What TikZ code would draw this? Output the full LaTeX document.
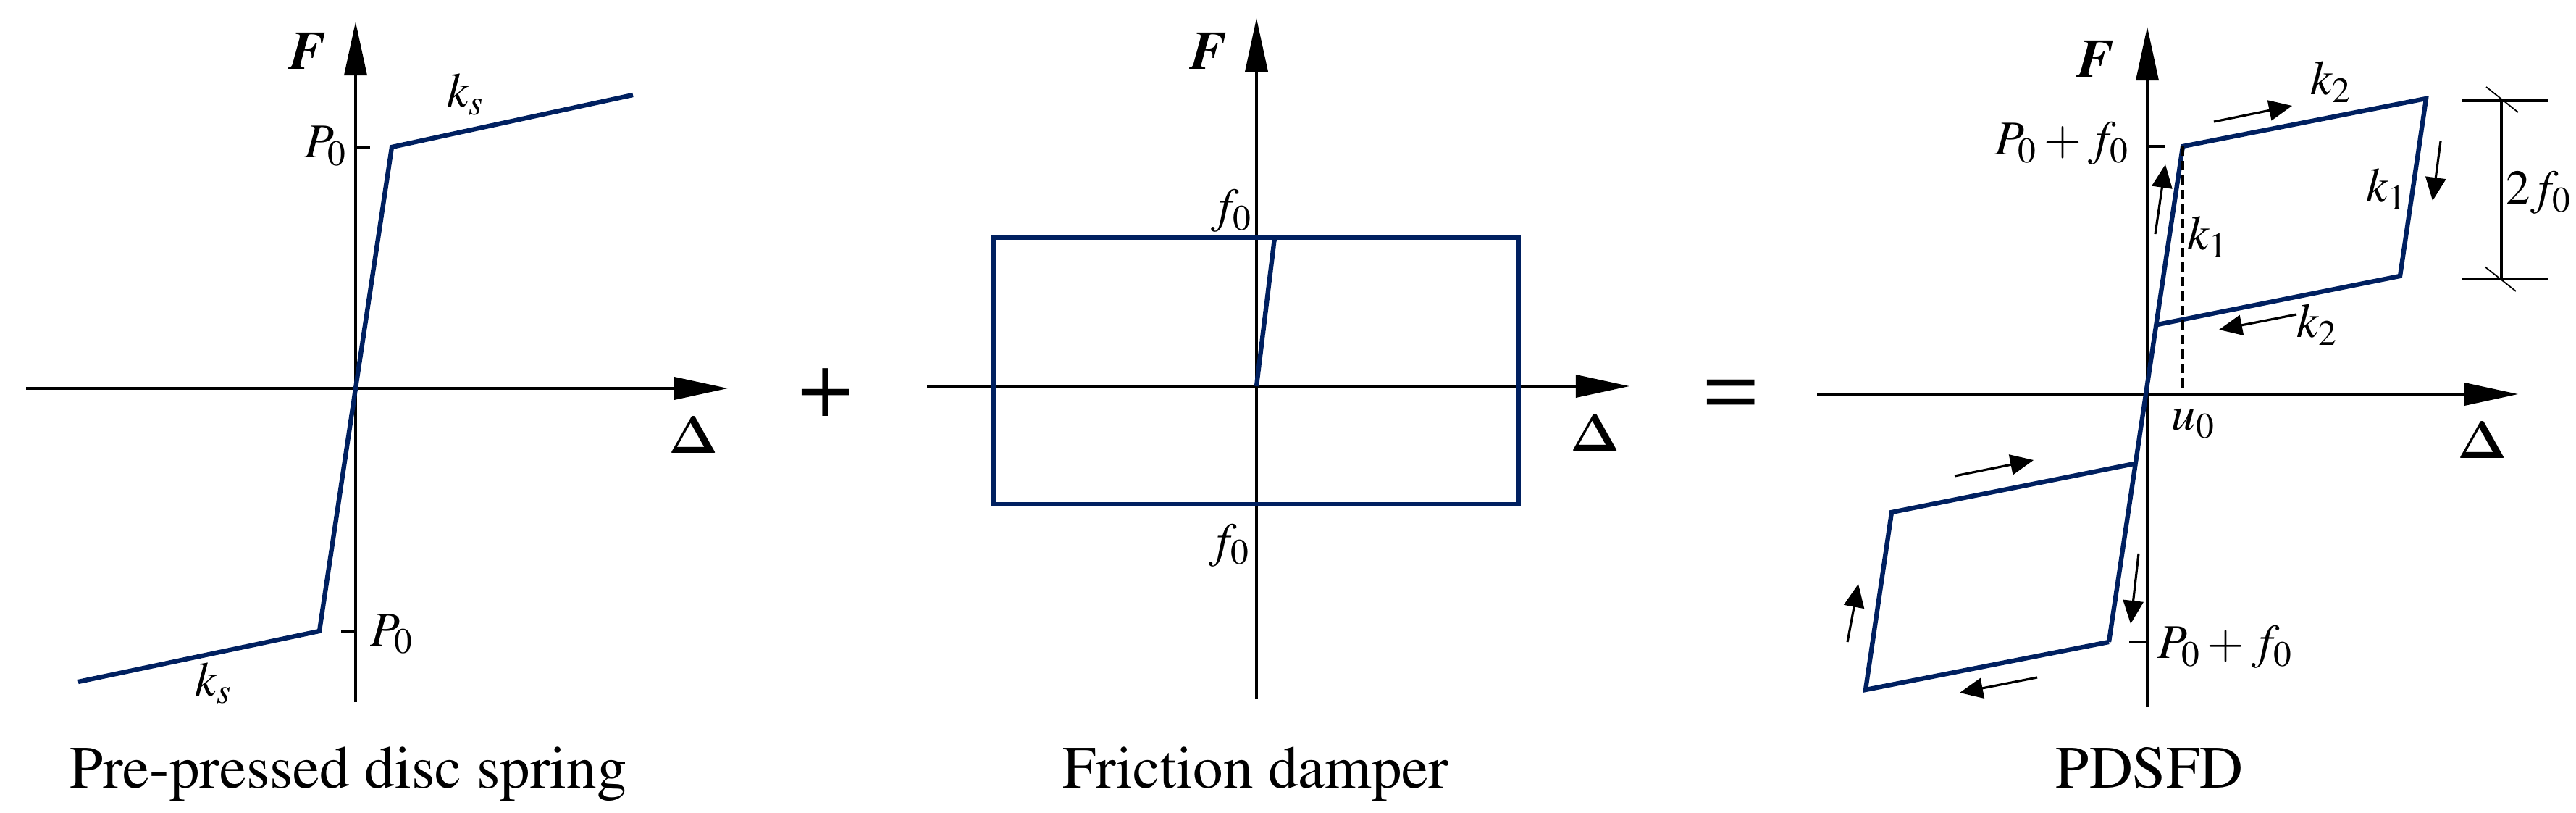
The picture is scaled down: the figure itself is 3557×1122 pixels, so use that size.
\documentclass[tikz,border=0pt]{standalone}
\usepackage[T1]{fontenc}
\usepackage{mathptmx}
\usetikzlibrary{arrows.meta}
\definecolor{navy}{RGB}{0,32,96}
\newcommand{\bDelta}{{\usefont{OT1}{cmr}{bx}{n}\char1}}
\begin{document}
\begin{tikzpicture}[x=0.01cm,y=-0.01cm,
  axis/.style={line width=1pt,-{Triangle[length=0.74cm,width=0.31cm]}},
  curve/.style={navy,line width=1.8pt,line join=miter},
  tickline/.style={line width=1pt},
  lab/.style={font=\fontsize{19}{19}\selectfont,inner sep=0pt},
  bigF/.style={font=\fontsize{21.3}{22}\selectfont\bfseries\itshape,inner sep=0pt},
  delta/.style={font=\fontsize{21}{22}\selectfont,inner sep=0pt},
  title/.style={font=\fontsize{23.6}{25}\selectfont,inner sep=0pt},
  op/.style={font=\fontsize{37}{37}\selectfont,inner sep=0pt},
  dirarrow/.style={line width=0.9pt,-{Triangle[length=0.32cm,width=0.28cm]}},
  dimline/.style={line width=1pt},
  slash/.style={line width=0.5pt}]
\useasboundingbox (0,0) rectangle (3557,1122);

% ---------------- Panel 1 ----------------
\coordinate (p1vb) at (491,969);
\coordinate (p1vt) at (491,30);
\coordinate (p1hl) at (36,536);
\coordinate (p1hr) at (1005,536);
\draw[axis] (p1vb) -- (p1vt);
\draw[axis] (p1hl) -- (p1hr);
\coordinate (s1) at (108,941);
\coordinate (s2) at (441,871);
\coordinate (s0) at (491,536);
\coordinate (s3) at (541,203);
\coordinate (s4) at (874,131);
\draw[curve] (s1) -- (s2) -- (s0) -- (s3) -- (s4);
\coordinate (t1a) at (491,203); \coordinate (t1b) at (511,203);
\coordinate (t2a) at (471,871); \coordinate (t2b) at (491,871);
\draw[tickline] (t1a) -- (t1b);
\draw[tickline] (t2a) -- (t2b);
\node[bigF,anchor=base] (F1) at (424,96) {F};
\node[lab,anchor=base east] (P1u) at (480,218) {$P_0$};
\node[lab,anchor=base west] (ks1) at (617,148) {$k_s$};
\node[lab,anchor=base west] (P1l) at (511,891) {$P_0$};
\node[lab,anchor=base west] (ks2) at (269,960) {$k_s$};
\node[delta,anchor=base] (D1) at (958,626) {\bDelta};
\node[title,anchor=base] (T1) at (481,1087) {Pre-pressed disc spring};

\node[op,anchor=base] (plus) at (1140,575) {+};

% ---------------- Panel 2 ----------------
\coordinate (p2vb) at (1735,965);
\coordinate (p2vt) at (1735,25);
\coordinate (p2hl) at (1280,533);
\coordinate (p2hr) at (2250,533);
\draw[axis] (p2vb) -- (p2vt);
\draw[axis] (p2hl) -- (p2hr);
\coordinate (r1) at (1372,328);
\coordinate (r2) at (2097,696);
\draw[curve] (r1) rectangle (r2);
\coordinate (fo) at (1735,533);
\coordinate (ft) at (1760,328);
\draw[curve] (fo) -- (ft);
\node[bigF,anchor=base] (F2) at (1668,96) {F};
\node[lab,anchor=base east] (f2u) at (1730,307) {$f_0$};
\node[lab,anchor=base east] (f2l) at (1727,768) {$f_0$};
\node[delta,anchor=base] (D2) at (2203,623) {\bDelta};
\node[title,anchor=base] (T2) at (1734,1087) {Friction damper};

\node[op,anchor=base] (equal) at (2390,575) {=};

% ---------------- Panel 3 ----------------
\coordinate (p3vb) at (2965,976);
\coordinate (p3vt) at (2965,37);
\coordinate (p3hl) at (2509,544);
\coordinate (p3hr) at (3477,544);
\draw[axis] (p3vb) -- (p3vt);
\draw[axis] (p3hl) -- (p3hr);
\coordinate (A) at (2979,448);
\coordinate (B) at (3014,202);
\coordinate (C) at (3350,136);
\coordinate (D) at (3314,381);
\coordinate (E) at (2947,640);
\coordinate (Fp) at (2612,707);
\coordinate (G) at (2576,952);
\coordinate (H) at (2912,886);
\draw[curve] (H) -- (B) -- (C) -- (D) -- (A);
\draw[curve] (E) -- (Fp) -- (G) -- (H);
\coordinate (u0top) at (3014,202);
\coordinate (u0bot) at (3014,544);
\draw[line width=1pt,dash pattern=on 0.13cm off 0.07cm] (u0top) -- (u0bot);
\coordinate (t3a) at (2965,202); \coordinate (t3b) at (2990,202);
\coordinate (t4a) at (2940,886); \coordinate (t4b) at (2965,886);
\draw[tickline] (t3a) -- (t3b);
\draw[tickline] (t4a) -- (t4b);
% direction arrows
\draw[dirarrow] (3057,168) -- (3165,146);
\draw[dirarrow] (3370,195) -- (3359,277);
\draw[dirarrow] (2976,323) -- (2990,227);
\draw[dirarrow] (3171,434) -- (3064,455);
\draw[dirarrow] (2699,657) -- (2808,635);
\draw[dirarrow] (2551,886) -- (2566,806);
\draw[dirarrow] (2953,764) -- (2942,861);
\draw[dirarrow] (2813,935) -- (2706,956);
% dimension 2f0
\coordinate (dt1) at (3400,139); \coordinate (dt2) at (3518,139);
\coordinate (db1) at (3400,385); \coordinate (db2) at (3518,385);
\coordinate (dvt) at (3454,139); \coordinate (dvb) at (3454,385);
\draw[dimline] (dt1) -- (dt2);
\draw[dimline] (db1) -- (db2);
\draw[dimline] (dvt) -- (dvb);
\draw[slash] (3433,120) -- (3477,155);
\draw[slash] (3431,368) -- (3474,402);
% labels
\node[bigF,anchor=base] (F3) at (2893,107) {F};
\node[lab,anchor=base east] (P3u) at (2941,214) {$P_0+f_0$};
\node[lab,anchor=base west] (k2u) at (3190,131) {$k_2$};
\node[lab,anchor=base west] (k1r) at (3267,279) {$k_1$};
\node[lab,anchor=base west] (k1l) at (3020,345) {$k_1$};
\node[lab,anchor=base west] (k2l) at (3171,466) {$k_2$};
\node[lab,anchor=base west] (twof) at (3460,282) {$2f_0$};
\node[lab,anchor=base west] (u0) at (2998,594) {$u_0$};
\node[delta,anchor=base] (D3) at (3428,633) {\bDelta};
\node[lab,anchor=base west] (P3l) at (2979,909) {$P_0+f_0$};
\node[title,anchor=base] (T3) at (2968,1087) {PDSFD};
\end{tikzpicture}
\end{document}
